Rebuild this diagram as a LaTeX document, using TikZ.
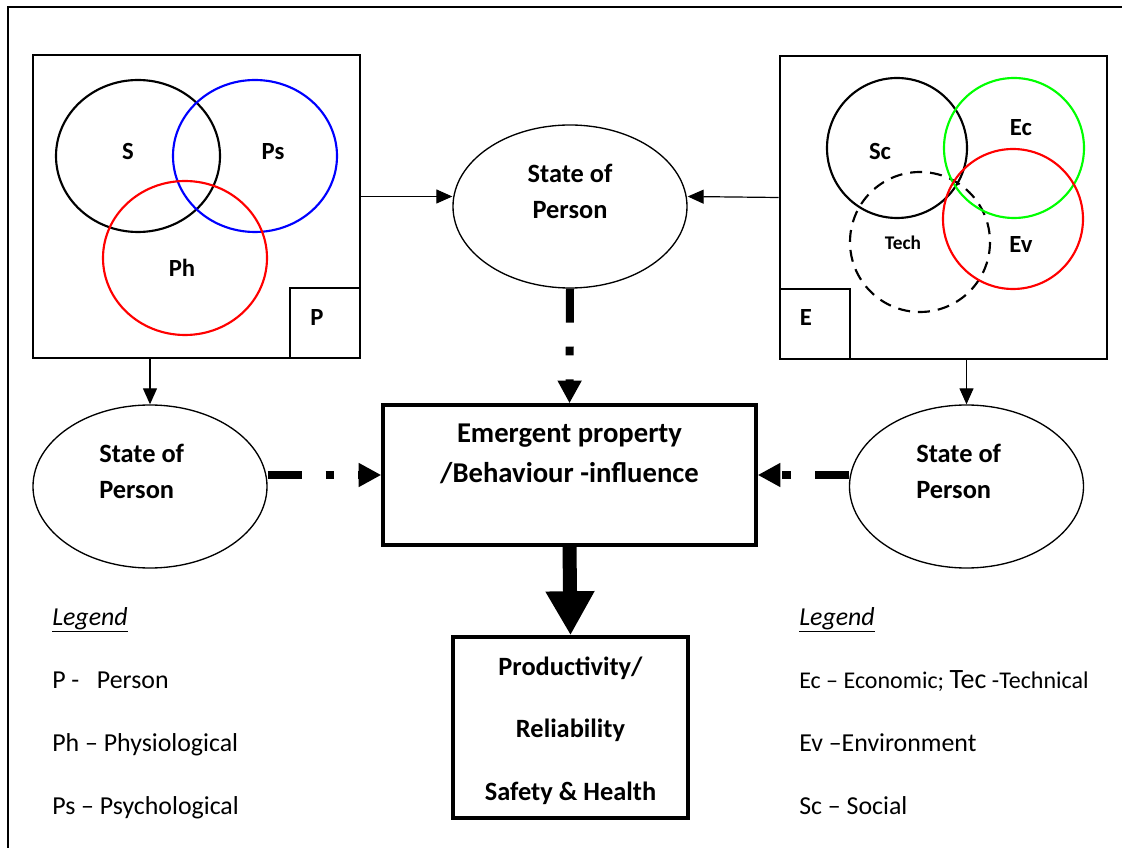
\documentclass[tikz,border=0pt]{standalone}
\usepackage{fontspec}
\setmainfont{Carlito}
\usetikzlibrary{arrows.meta,shapes.geometric}

\newcommand{\txt}{\fontsize{18.5}{27}\selectfont}
\newcommand{\bigtxt}{\fontsize{19.8}{27}\selectfont}

\begin{document}
\begin{tikzpicture}[x=0.75pt,y=-0.75pt,
    box/.style={draw, line width=2pt, inner sep=0pt},
    bigbox/.style={draw, line width=2.6pt, inner sep=0pt},
    oval/.style={draw, ellipse, line width=1pt, minimum width=175.5pt, minimum height=122.25pt, inner sep=0pt},
    lbl/.style={font=\txt\bfseries, inner sep=0pt},
    statelbl/.style={font=\bigtxt\bfseries, inner sep=0pt},
    legtxt/.style={font=\fontsize{19.4}{27}\selectfont, anchor=base west, inner sep=0pt},
    thinarr/.style={line width=0.9pt, -{Triangle[length=12pt,width=10.5pt]}},
    infl/.style={line width=6pt, dash pattern=on 25.5pt off 18pt on 6.5pt off 18pt, -{Triangle[length=17pt,width=17pt]}},
    venn/.style={line width=1.6pt}]

\useasboundingbox (0,0) rectangle (1122,848);
\fill[white] (0,0) rectangle (1122,848);
% outer frame, cut off at right and bottom
\draw[line width=1.4pt] (8,870) -- (8,7) -- (1140,7);

% person
\node[box, minimum width=245.25pt, minimum height=227.25pt] (Pbox) at (196.5,206.5) {};
\node[box, minimum size=52.5pt, anchor=south east] (Psq) at (Pbox.south east) {};
\draw[venn] (138,156) ellipse [x radius=82, y radius=76];
\draw[venn, blue] (255,156) ellipse [x radius=82, y radius=76];
\draw[venn, red] (185,258) ellipse [x radius=82, y radius=77];
\node[lbl] (sLbl) at (128,152) {S};
\node[lbl] (psLbl) at (273,152) {Ps};
\node[lbl] (phLbl) at (182,268) {Ph};
\node[lbl] (pLbl) at (317,318) {P};

% environment
\node[box, minimum width=245.25pt, minimum height=227.25pt] (Ebox) at (943.5,207.5) {};
\node[box, minimum size=52.5pt, anchor=south west] (Esq) at (Ebox.south west) {};
\draw[venn] (897,148) circle [radius=70];
\draw[venn, dash pattern=on 9pt off 6pt] (920,242) circle [radius=70];
\draw[venn, green] (1014,148) circle [radius=70];
\draw[venn, red] (1013,219) circle [radius=70];
\node[lbl] (scLbl) at (880,152) {Sc};
\node[lbl] (ecLbl) at (1021,128) {Ec};
\node[lbl] (evLbl) at (1021,245) {Ev};
\node[lbl, font=\fontsize{14.5}{17}\selectfont\bfseries] (techLbl) at (903,243) {Tech};
\node[lbl] (eLbl) at (806,318) {E};

% states of person
\node[oval] (stTop) at (570,206.5) {};
\node[oval] (stLeft) at (150,486.5) {};
\node[oval] (stRight) at (966.5,486.5) {};
\node[statelbl, anchor=base] (stTopA) at (570,183) {State of};
\node[statelbl, anchor=base] (stTopB) at (570,219) {Person};
\node[statelbl, anchor=base west] (stLeftA) at (99,463) {State of};
\node[statelbl, anchor=base west] (stLeftB) at (99,499) {Person};
\node[statelbl, anchor=base west] (stRightA) at (916,463) {State of};
\node[statelbl, anchor=base west] (stRightB) at (916,499) {Person};

% emergent property and outcome
\node[bigbox, minimum width=279.75pt, minimum height=105pt] (emerg) at (569.5,475) {};
\node[statelbl, anchor=base, font=\fontsize{21.5}{27}\selectfont\bfseries] (emergA) at (569.5,443) {Emergent property};
\node[statelbl, anchor=base, font=\fontsize{21.5}{27}\selectfont\bfseries] (emergB) at (569.5,483) {/Behaviour -influence};
\node[bigbox, minimum width=176.25pt, minimum height=135.75pt] (prod) at (570.5,727.5) {};
\node[statelbl, anchor=base] (prodA) at (570.5,675) {Productivity/};
\node[statelbl, anchor=base] (prodB) at (570.5,737) {Reliability};
\node[statelbl, anchor=base] (prodC) at (570.5,800) {Safety \& Health};

% legends
\node[legtxt] (legL) at (52,625) {\underline{\textit{Legend}}};
\node[legtxt] (legR) at (799,625) {\underline{\textit{Legend}}};
\foreach \t [count=\i] in {P -\ \ \ Person, Ph -- Physiological, Ps -- Psychological}
    \node[legtxt] (legL\i) at (52,625+63*\i) {\t};
\foreach \t [count=\i] in {{\fontsize{18}{27}\selectfont Ec -- Economic; {\fontsize{21}{27}\selectfont Tec} -Technical}, Ev --Environment, Sc -- Social}
    \node[legtxt] (legR\i) at (799,625+63*\i) {\t};

% connectors
\draw[thinarr] ([yshift=7.5pt]Pbox.east) -- ([yshift=7.5pt]stTop.west);
\draw[thinarr] ([yshift=7.5pt]Ebox.west) -- ([yshift=7.5pt]stTop.east);
\draw[thinarr] (Pbox.south -| stLeft.north) -- (stLeft.north);
\draw[thinarr] (Ebox.south -| stRight.north) -- (stRight.north);
\draw[infl] (stTop.south) -- (emerg.north);
\draw[infl] (stLeft.east |- emerg.west) -- (emerg.west);
\draw[infl] (stRight.west |- emerg.east) -- (emerg.east);
\draw[line width=10.5pt, -{Triangle[length=33pt,width=34.5pt]}] (emerg.south) -- (prod.north);
\end{tikzpicture}
\end{document}
